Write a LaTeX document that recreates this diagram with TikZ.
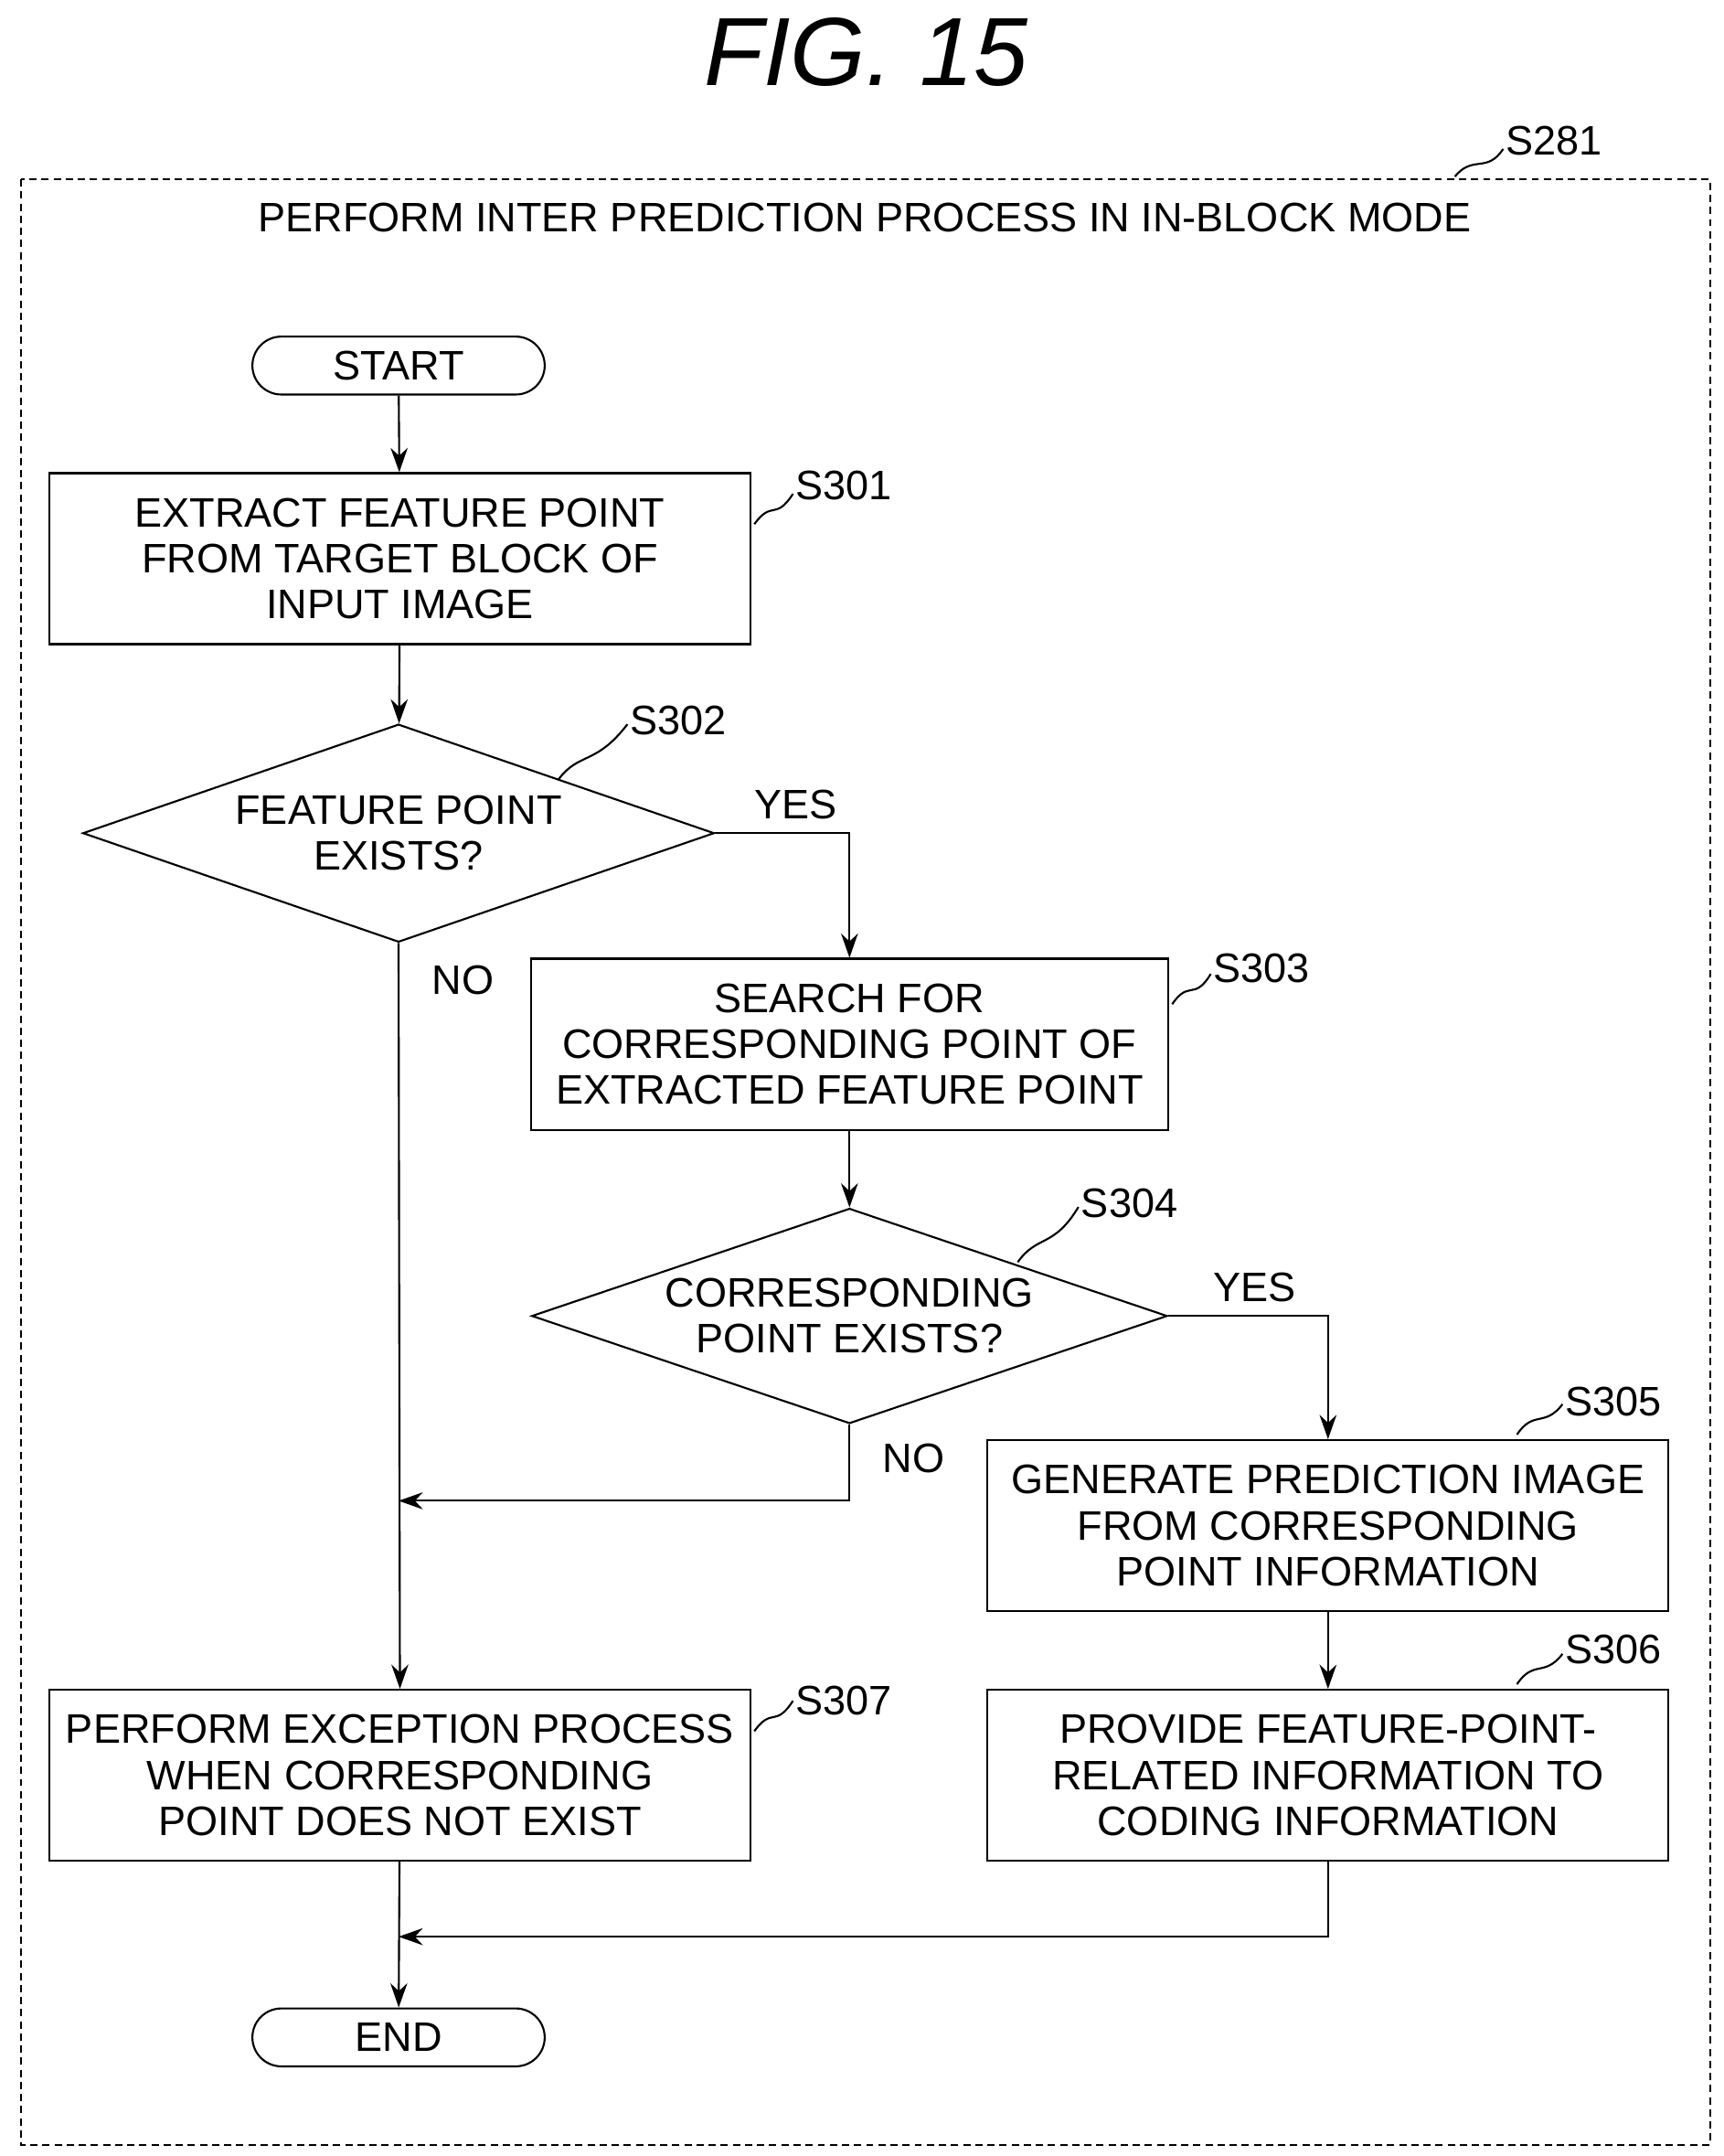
\documentclass[tikz,border=0pt]{standalone}
\usepackage{fontspec}
\setmainfont{Liberation Sans}
\usetikzlibrary{shapes.geometric,arrows.meta}

\tikzset{
  txt/.style = {font=\fontsize{17}{19}\selectfont, align=center},
  box/.style = {txt, draw, thick, minimum width=10.16cm, minimum height=2.48cm, inner sep=2pt},
  term/.style = {txt, draw, thick, rounded corners=0.42cm, minimum width=4.24cm, minimum height=0.84cm, inner sep=0pt},
  cond/.style = {txt, draw, thick, diamond, aspect=2.9, inner sep=0pt, minimum width=9.16cm, minimum height=3.16cm},
  tag/.style = {font=\fontsize{17}{19}\selectfont, anchor=west, inner sep=1pt},
  flow/.style = {thick, -{Stealth[length=10pt,width=7pt]}},
  wave/.style = {thick}
}

\begin{document}
\begin{tikzpicture}[x=0.02cm, y=-0.02cm]
    \useasboundingbox (0,0) rectangle (1250,1563);

    % title and frame
    \node (title) at (628,38) {\fontsize{40}{44}\selectfont\itshape FIG. 15};
    \draw[thick, dashed, dash pattern=on 3pt off 2pt] (15,130) rectangle (1240,1555);
    \node (head) [txt] at (627,158) {PERFORM INTER PREDICTION PROCESS IN IN-BLOCK MODE};
    \draw[wave] (1055,128) .. controls (1068,112) and (1078,126) .. (1090,108);
    \node[tag] (t281) at (1090,102) {S281};

    % nodes
    \node (start) [term] at (289,265) {START};
    \node (s301) [box] at (290,405) {EXTRACT FEATURE POINT\\FROM TARGET BLOCK OF\\INPUT IMAGE};
    \node (s302) [cond] at (289,604) {FEATURE POINT\\EXISTS?};
    \node (s303) [box, minimum width=9.24cm] at (616,757) {SEARCH FOR\\CORRESPONDING POINT OF\\EXTRACTED FEATURE POINT};
    \node (s304) [cond, minimum height=3.12cm, minimum width=9.22cm] at (616,954) {CORRESPONDING\\POINT EXISTS?};
    \node (s305) [box, minimum width=9.88cm] at (963,1106) {GENERATE PREDICTION IMAGE\\FROM CORRESPONDING\\POINT INFORMATION};
    \node (s306) [box, minimum width=9.88cm] at (963,1287) {PROVIDE FEATURE-POINT-\\RELATED INFORMATION TO\\CODING INFORMATION};
    \node (s307) [box] at (290,1287) {PERFORM EXCEPTION PROCESS\\WHEN CORRESPONDING\\POINT DOES NOT EXIST};
    \node (end) [term] at (289,1477) {END};

    % step labels
    \draw[wave] (547,380) .. controls (560,362) and (562,378) .. (575,358);
    \node[tag] (t301) at (575,352) {S301};
    \draw[wave] (405,565) .. controls (420,545) and (432,555) .. (455,525);
    \node[tag] (t302) at (455,522) {S302};
    \draw[wave] (850,728) .. controls (862,710) and (866,726) .. (878,706);
    \node[tag] (t303) at (878,702) {S303};
    \draw[wave] (738,915) .. controls (752,895) and (764,905) .. (782,875);
    \node[tag] (t304) at (782,872) {S304};
    \draw[wave] (1100,1040) .. controls (1112,1022) and (1120,1035) .. (1133,1018);
    \node[tag] (t305) at (1133,1016) {S305};
    \draw[wave] (1100,1221) .. controls (1112,1203) and (1120,1216) .. (1133,1199);
    \node[tag] (t306) at (1133,1196) {S306};
    \draw[wave] (547,1255) .. controls (560,1237) and (562,1253) .. (575,1233);
    \node[tag] (t307) at (575,1233) {S307};

    % connectors
    \coordinate (j1) at (289,1088);
    \coordinate (j2) at (289,1404);
    \draw[flow] (start) -- (s301);
    \draw[flow] (s301) -- (s302);
    \draw[flow] (s302.east) -| node[pos=0.3, above=2pt, txt] {YES} (s303.north);
    \draw[flow] (s302.south) -- node[pos=0.05, right=10pt, txt] {NO} (s307.north);
    \draw[flow] (s303) -- (s304);
    \draw[flow] (s304.east) -| node[pos=0.27, above=2pt, txt] {YES} (s305.north);
    \draw[flow] (s304.south) |- node[pos=0.22, right=10pt, txt] {NO} (j1);
    \draw[flow] (s305) -- (s306);
    \draw[flow] (s306.south) |- (j2);
    \draw[flow] (s307) -- (end);
\end{tikzpicture}
\end{document}
